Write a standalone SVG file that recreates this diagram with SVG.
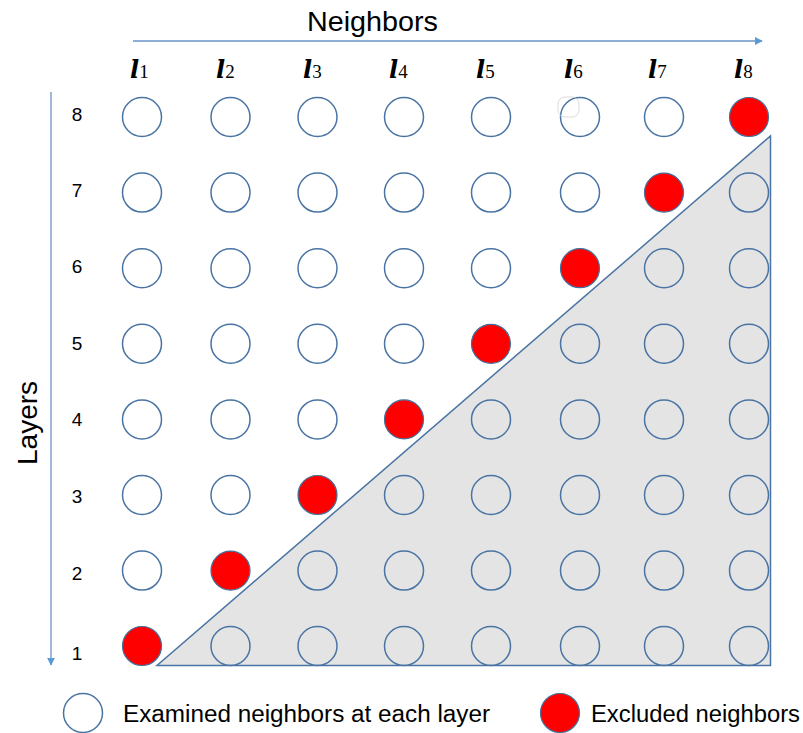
<svg xmlns="http://www.w3.org/2000/svg" width="803" height="733" viewBox="0 0 803 733">
  <style>
    .txt { font-family: "Liberation Sans", Arial, sans-serif; fill: #000; }
    .row { font-size: 19px; text-anchor: middle; }
    .lab { font-family: "DejaVu Serif", "Liberation Serif", serif; fill: #000; }
    .ell { font-weight: bold; font-style: italic; font-size: 24px; }
    .sub { font-family: "Liberation Serif", serif; font-size: 19px; }
    .open { fill: #fff; stroke: #4a74a3; stroke-width: 1.5; }
    .shade { fill: none; stroke: #4a74a3; stroke-width: 1.5; }
    .ex { fill: #ff0000; stroke: #41719c; stroke-width: 1.2; }
    .axis { stroke: #6a93c4; stroke-width: 1.3; fill: none; }
  </style>
  <defs>
    <marker id="arr" viewBox="0 0 10 10" refX="9" refY="5" markerWidth="8" markerHeight="8" markerUnits="userSpaceOnUse" orient="auto">
      <path d="M0,0 L10,5 L0,10 z" fill="#5b9bd5"/>
    </marker>
  </defs>
  <rect width="803" height="733" fill="#fff"/>

  <!-- axes -->
  <g id="connectors">
    <line class="axis" x1="133" y1="41" x2="762" y2="41" marker-end="url(#arr)"/>
    <line class="axis" x1="51" y1="92" x2="51" y2="665" marker-end="url(#arr)"/>
  </g>
  <text class="txt" x="307" y="31" font-size="28" textLength="131" lengthAdjust="spacingAndGlyphs">Neighbors</text>
  <text class="txt" x="0" y="0" font-size="28" text-anchor="middle" transform="translate(37 423) rotate(-90)">Layers</text>

  <!-- shaded lower triangle -->
  <path id="region" d="M157,665.5 L770.5,665.5 L770.5,136 Z" fill="#e4e4e4" stroke="#4a74a3" stroke-width="1.5"/>

  <!-- column headers -->
  <g id="headers" class="lab">
    <text x="130" y="78"><tspan class="ell">l</tspan><tspan class="sub">1</tspan></text>
    <text x="216" y="78"><tspan class="ell">l</tspan><tspan class="sub">2</tspan></text>
    <text x="303" y="78"><tspan class="ell">l</tspan><tspan class="sub">3</tspan></text>
    <text x="389" y="78"><tspan class="ell">l</tspan><tspan class="sub">4</tspan></text>
    <text x="476" y="78"><tspan class="ell">l</tspan><tspan class="sub">5</tspan></text>
    <text x="564" y="78"><tspan class="ell">l</tspan><tspan class="sub">6</tspan></text>
    <text x="648" y="78"><tspan class="ell">l</tspan><tspan class="sub">7</tspan></text>
    <text x="734" y="78"><tspan class="ell">l</tspan><tspan class="sub">8</tspan></text>
  </g>

  <!-- row labels -->
  <g id="rows" class="txt row">
    <text x="77" y="121">8</text>
    <text x="77" y="197">7</text>
    <text x="77" y="273">6</text>
    <text x="77" y="350">5</text>
    <text x="77" y="426">4</text>
    <text x="77" y="503">3</text>
    <text x="77" y="580">2</text>
    <text x="77" y="660">1</text>
  </g>

  <!-- row 8 -->
  <g id="row8">
    <circle class="open" cx="142" cy="117" r="19.5"/>
    <circle class="open" cx="230.5" cy="117" r="19.5"/>
    <circle class="open" cx="317.5" cy="117" r="19.5"/>
    <circle class="open" cx="404" cy="117" r="19.5"/>
    <circle class="open" cx="491" cy="117" r="19.5"/>
    <circle class="open" cx="580" cy="117" r="19.5"/>
    <rect x="558" y="97" width="21" height="20" rx="7" fill="none" stroke="#d0d0d0" stroke-width="0.8"/>
    <circle class="open" cx="664" cy="117" r="19.5"/>
    <circle class="ex" cx="749" cy="117" r="19.5"/>
  </g>
  <!-- row 7 -->
  <g id="row7">
    <circle class="open" cx="142" cy="192.6" r="19.5"/>
    <circle class="open" cx="230.5" cy="192.6" r="19.5"/>
    <circle class="open" cx="317.5" cy="192.6" r="19.5"/>
    <circle class="open" cx="404" cy="192.6" r="19.5"/>
    <circle class="open" cx="491" cy="192.6" r="19.5"/>
    <circle class="open" cx="580" cy="192.6" r="19.5"/>
    <circle class="ex" cx="664" cy="192.6" r="19.5"/>
    <circle class="shade" cx="749" cy="192.6" r="19.5"/>
  </g>
  <!-- row 6 -->
  <g id="row6">
    <circle class="open" cx="142" cy="268.2" r="19.5"/>
    <circle class="open" cx="230.5" cy="268.2" r="19.5"/>
    <circle class="open" cx="317.5" cy="268.2" r="19.5"/>
    <circle class="open" cx="404" cy="268.2" r="19.5"/>
    <circle class="open" cx="491" cy="268.2" r="19.5"/>
    <circle class="ex" cx="580" cy="268.2" r="19.5"/>
    <circle class="shade" cx="664" cy="268.2" r="19.5"/>
    <circle class="shade" cx="749" cy="268.2" r="19.5"/>
  </g>
  <!-- row 5 -->
  <g id="row5">
    <circle class="open" cx="142" cy="343.8" r="19.5"/>
    <circle class="open" cx="230.5" cy="343.8" r="19.5"/>
    <circle class="open" cx="317.5" cy="343.8" r="19.5"/>
    <circle class="open" cx="404" cy="343.8" r="19.5"/>
    <circle class="ex" cx="491" cy="343.8" r="19.5"/>
    <circle class="shade" cx="580" cy="343.8" r="19.5"/>
    <circle class="shade" cx="664" cy="343.8" r="19.5"/>
    <circle class="shade" cx="749" cy="343.8" r="19.5"/>
  </g>
  <!-- row 4 -->
  <g id="row4">
    <circle class="open" cx="142" cy="419.4" r="19.5"/>
    <circle class="open" cx="230.5" cy="419.4" r="19.5"/>
    <circle class="open" cx="317.5" cy="419.4" r="19.5"/>
    <circle class="ex" cx="404" cy="419.4" r="19.5"/>
    <circle class="shade" cx="491" cy="419.4" r="19.5"/>
    <circle class="shade" cx="580" cy="419.4" r="19.5"/>
    <circle class="shade" cx="664" cy="419.4" r="19.5"/>
    <circle class="shade" cx="749" cy="419.4" r="19.5"/>
  </g>
  <!-- row 3 -->
  <g id="row3">
    <circle class="open" cx="142" cy="495" r="19.5"/>
    <circle class="open" cx="230.5" cy="495" r="19.5"/>
    <circle class="ex" cx="317.5" cy="495" r="19.5"/>
    <circle class="shade" cx="404" cy="495" r="19.5"/>
    <circle class="shade" cx="491" cy="495" r="19.5"/>
    <circle class="shade" cx="580" cy="495" r="19.5"/>
    <circle class="shade" cx="664" cy="495" r="19.5"/>
    <circle class="shade" cx="749" cy="495" r="19.5"/>
  </g>
  <!-- row 2 -->
  <g id="row2">
    <circle class="open" cx="142" cy="570.6" r="19.5"/>
    <circle class="ex" cx="230.5" cy="570.6" r="19.5"/>
    <circle class="shade" cx="317.5" cy="570.6" r="19.5"/>
    <circle class="shade" cx="404" cy="570.6" r="19.5"/>
    <circle class="shade" cx="491" cy="570.6" r="19.5"/>
    <circle class="shade" cx="580" cy="570.6" r="19.5"/>
    <circle class="shade" cx="664" cy="570.6" r="19.5"/>
    <circle class="shade" cx="749" cy="570.6" r="19.5"/>
  </g>
  <!-- row 1 -->
  <g id="row1">
    <circle class="ex" cx="142" cy="646" r="19.5"/>
    <circle class="shade" cx="230.5" cy="646" r="19.5"/>
    <circle class="shade" cx="317.5" cy="646" r="19.5"/>
    <circle class="shade" cx="404" cy="646" r="19.5"/>
    <circle class="shade" cx="491" cy="646" r="19.5"/>
    <circle class="shade" cx="580" cy="646" r="19.5"/>
    <circle class="shade" cx="664" cy="646" r="19.5"/>
    <circle class="shade" cx="749" cy="646" r="19.5"/>
  </g>

  <!-- legend -->
  <g id="legend-examined">
    <circle class="open" cx="83" cy="713" r="19.5"/>
    <text class="txt" x="123" y="722" font-size="23" textLength="367" lengthAdjust="spacingAndGlyphs">Examined neighbors at each layer</text>
  </g>
  <g id="legend-excluded">
    <circle class="ex" cx="560" cy="713" r="19.5"/>
    <text class="txt" x="591" y="722" font-size="23" textLength="209" lengthAdjust="spacingAndGlyphs">Excluded neighbors</text>
  </g>
</svg>
